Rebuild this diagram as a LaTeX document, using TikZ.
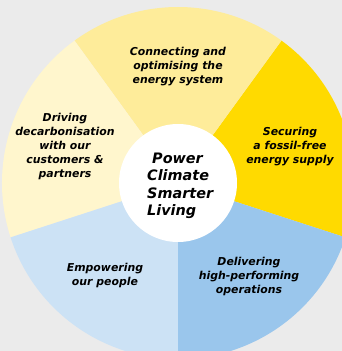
\documentclass[tikz,border=0pt]{standalone}
\usepackage{fontspec}
\setmainfont{DejaVu Sans}
\definecolor{bg}{HTML}{EBEBEB}
\definecolor{segtop}{HTML}{FEEC9A}
\definecolor{segleft}{HTML}{FFF6CD}
\definecolor{segright}{HTML}{FFDA00}
\definecolor{segbr}{HTML}{9AC6EC}
\definecolor{segbl}{HTML}{CCE2F5}
\tikzset{
  seglabel/.style={align=center, inner sep=0pt, text=black,
    font=\fontsize{10.9}{14}\selectfont\bfseries\itshape},
  hublabel/.style={align=left, inner sep=0pt, text=black,
    font=\fontsize{14.4}{17.5}\selectfont\bfseries\itshape},
}
\begin{document}
\begin{tikzpicture}[x=1pt,y=1pt]
\useasboundingbox (0,0) rectangle (342,351);
\fill[bg] (0,0) rectangle (342,351);
\coordinate (C) at (178,168);
\begin{scope}
\clip (0,0) rectangle (342,351);
\fill[segright] (C) -- ++(-18:176) arc[start angle=-18, end angle=54, radius=176] -- cycle;
\fill[segtop] (C) -- ++(54:176) arc[start angle=54, end angle=126, radius=176] -- cycle;
\fill[segleft] (C) -- ++(126:176) arc[start angle=126, end angle=198, radius=176] -- cycle;
\fill[segbl] (C) -- ++(198:176) arc[start angle=198, end angle=270, radius=176] -- cycle;
\fill[segbr] (C) -- ++(270:176) arc[start angle=270, end angle=342, radius=176] -- cycle;
\end{scope}
\fill[white] (C) circle[radius=59];
\node[seglabel] (top) at (178,284) {Connecting and\\optimising the\\energy system};
\node[seglabel] (left) at (65,205) {Driving\\decarbonisation\\with our\\customers \&\\partners};
\node[seglabel] (right) at (290,204) {Securing\\a fossil-free\\energy supply};
\node[seglabel] (br) at (249,75) {Delivering\\high-performing\\operations};
\node[seglabel] (bl) at (105,76) {Empowering\\our people};
\node[hublabel, anchor=west] (hub) at (147,165) {\hspace{5pt}Power\\Climate\\Smarter\\Living};
\end{tikzpicture}
\end{document}
